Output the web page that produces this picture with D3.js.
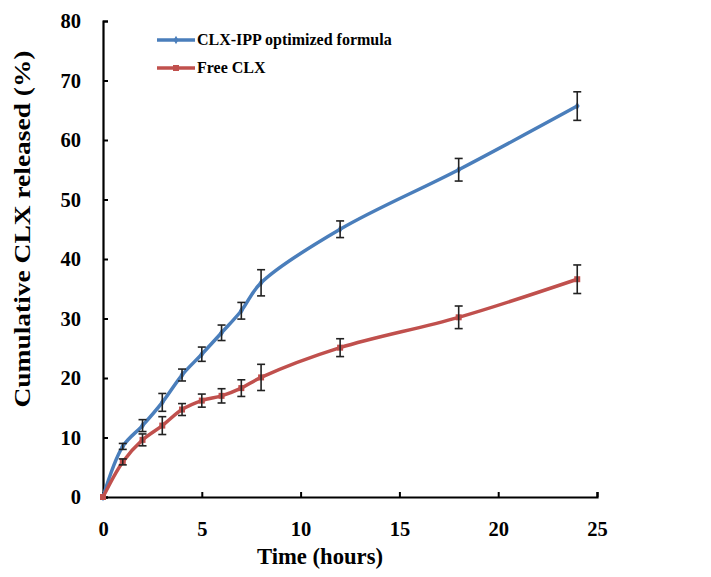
<!DOCTYPE html>
<html><head><meta charset="utf-8">
<script src="https://cdn.jsdelivr.net/npm/d3@7"></script>
<style>body{margin:0;background:#fff}svg{display:block}</style>
</head><body>
<svg id="c" width="711" height="577"></svg>
<script>
const times = [0,1,2,3,4,5,6,7,8,12,18,24];
const optimized = [0,8.5,12,15.9,20.5,24,27.6,31.3,36,45,55,65.7];
const optimizedErr = [0,0.5,1,1.5,1,1.2,1.3,1.4,2.2,1.4,1.9,2.4];
const freeClx = [0,5.9,9.6,12,14.7,16.2,17,18.3,20.1,25.1,30.2,36.6];
const freeErr = [0,0.5,1,1.5,1,1.1,1.2,1.4,2.2,1.5,1.9,2.4];
const xTicks = [0,5,10,15,20,25];
const yTicks = [0,10,20,30,40,50,60,70,80];
const seriesNames = ["CLX-IPP optimized formula","Free CLX"];
const colors = ["#4a7ebb","#c0504d"];

const svg = d3.select("#c");
const x = d3.scaleLinear().domain([0,25]).range([103,597]);
const y = d3.scaleLinear().domain([0,80]).range([497,21]);
const font = "'Liberation Serif', 'Times New Roman', serif";

// axes
const yAxis = d3.axisLeft(y).tickValues(yTicks).tickSize(-5).tickPadding(22);
const gy = svg.append("g").attr("transform",`translate(${x(0)},0)`).call(yAxis);
const xAxis = d3.axisBottom(x).tickValues(xTicks).tickSize(-5).tickPadding(24);
const gx = svg.append("g").attr("transform",`translate(0,${y(0)})`).call(xAxis);
[gx,gy].forEach(g=>{
  g.select(".domain").attr("stroke","#000").attr("stroke-width",2.2);
  g.selectAll(".tick line").attr("stroke","#000").attr("stroke-width",2);
  g.selectAll(".tick text").attr("font-family",font).attr("font-weight","bold").attr("font-size",20.5).attr("fill","#000");
});

svg.append("text").attr("x",320).attr("y",564).attr("text-anchor","middle")
  .attr("font-family",font).attr("font-weight","bold").attr("font-size",23)
  .attr("textLength",126).attr("lengthAdjust","spacingAndGlyphs").text("Time (hours)");
svg.append("text").attr("transform","translate(30,229) rotate(-90)").attr("text-anchor","middle")
  .attr("font-family",font).attr("font-weight","bold").attr("font-size",23)
  .attr("textLength",357).attr("lengthAdjust","spacingAndGlyphs").text("Cumulative CLX released (%)");

const data = [
  times.map((t,i)=>({t,v:optimized[i],e:optimizedErr[i]})),
  times.map((t,i)=>({t,v:freeClx[i],e:freeErr[i]}))
];
const line = d3.line().x(d=>x(d.t)).y(d=>y(d.v)).curve(d3.curveCatmullRom.alpha(0.5));

data.forEach((s,k)=>{
  svg.append("path").datum(s).attr("d",line).attr("fill","none")
    .attr("stroke",colors[k]).attr("stroke-width",3.5);
  s.forEach(d=>{
    if(k===0){
      svg.append("path").attr("d",d3.symbol(d3.symbolDiamond,20)()).attr("transform",`translate(${x(d.t)},${y(d.v)})`).attr("fill",colors[k]);
    } else {
      svg.append("rect").attr("x",x(d.t)-3).attr("y",y(d.v)-3).attr("width",6).attr("height",6).attr("fill",colors[k]);
    }
  });
});
// error bars
data.forEach(s=>{
  s.filter(d=>d.e>0).forEach(d=>{
    const g = svg.append("g").attr("stroke","#222").attr("stroke-width",1.6);
    g.append("line").attr("x1",x(d.t)).attr("x2",x(d.t)).attr("y1",y(d.v+d.e)).attr("y2",y(d.v-d.e));
    g.append("line").attr("x1",x(d.t)-4).attr("x2",x(d.t)+4).attr("y1",y(d.v+d.e)).attr("y2",y(d.v+d.e));
    g.append("line").attr("x1",x(d.t)-4).attr("x2",x(d.t)+4).attr("y1",y(d.v-d.e)).attr("y2",y(d.v-d.e));
  });
});

// legend
seriesNames.forEach((n,k)=>{
  const ly = [40,68][k];
  svg.append("line").attr("x1",157).attr("x2",195).attr("y1",ly).attr("y2",ly).attr("stroke",colors[k]).attr("stroke-width",3.5);
  if(k===0) svg.append("path").attr("d",d3.symbol(d3.symbolDiamond,20)()).attr("transform",`translate(176,${ly})`).attr("fill",colors[k]);
  else svg.append("rect").attr("x",173).attr("y",ly-3).attr("width",6).attr("height",6).attr("fill",colors[k]);
  svg.append("text").attr("x",197).attr("y",ly+5).attr("font-family",font).attr("font-weight","bold").attr("font-size",16).text(n);
});
</script>
</body></html>
